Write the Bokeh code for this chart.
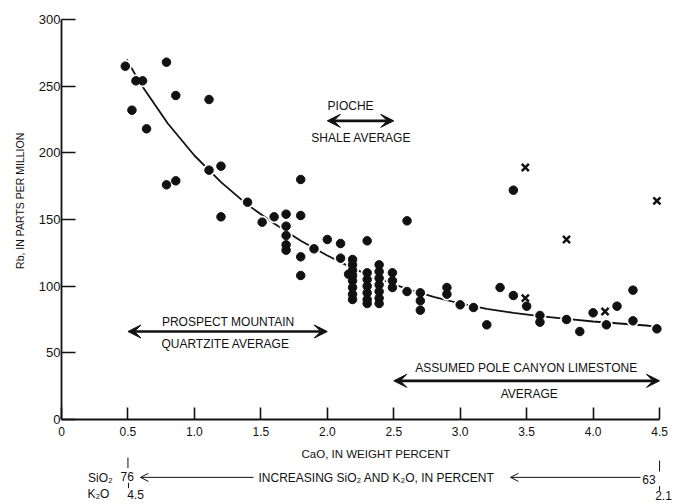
import math
from bokeh.plotting import figure
from bokeh.models import Range1d, FixedTicker, Label, Arrow, VeeHead, OpenHead
from bokeh.embed import file_html
from bokeh.resources import INLINE

# ---------------- data ----------------
dot_cao = [0.48, 0.53, 0.56, 0.61, 0.64, 0.79, 0.79, 0.86, 0.86, 1.11, 1.11, 1.20, 1.20,
           1.40, 1.51, 1.60, 1.69, 1.69, 1.69, 1.69, 1.69, 1.80, 1.80, 1.80, 1.80, 1.90,
           2.00, 2.10, 2.10, 2.16,
           2.19, 2.19, 2.19, 2.19, 2.19, 2.19, 2.19, 2.19,
           2.30,
           2.30, 2.30, 2.30, 2.30, 2.30, 2.30,
           2.39, 2.39, 2.39, 2.39, 2.39, 2.39, 2.39,
           2.49, 2.49, 2.49,
           2.60, 2.60, 2.70, 2.70, 2.70, 2.90, 2.90,
           3.00, 3.10, 3.20, 3.30, 3.40, 3.40, 3.50,
           3.60, 3.60, 3.80, 3.90, 4.00, 4.10, 4.18, 4.30, 4.30, 4.48]
dot_rb = [265, 232, 254, 254, 218, 268, 176, 243, 179, 240, 187, 190, 152,
          163, 148, 152, 154, 145, 138, 131, 127, 180, 153, 122, 108, 128,
          135, 132, 121, 109,
          120, 116, 112, 108, 104, 99, 94, 90,
          134,
          110, 105, 100, 95, 90, 87,
          116, 111, 106, 101, 96, 91, 87,
          110, 104, 99,
          149, 96, 95, 89, 82, 99, 94,
          86, 84, 71, 99, 172, 93, 85,
          78, 73, 75, 66, 80, 71, 85, 97, 74, 68]

cross_cao = [3.49, 3.80, 4.48, 3.49, 4.09]
cross_rb = [189, 135, 164, 91, 81]

curve_cao = [0.49, 0.6, 0.8, 1.0, 1.2, 1.4, 1.6, 1.8, 2.0, 2.2, 2.4, 2.6, 2.8,
             3.0, 3.2, 3.4, 3.6, 3.8, 4.0, 4.2, 4.4, 4.48]
curve_rb = [270, 251, 222, 198, 178, 161, 147, 134, 123, 113, 105, 98, 92,
            87, 83, 80, 77.5, 75.5, 73.5, 72, 70.5, 69.5]

x_ticks = [0, 0.5, 1.0, 1.5, 2.0, 2.5, 3.0, 3.5, 4.0, 4.5]
x_tick_labels = ["0", "0.5", "1.0", "1.5", "2.0", "2.5", "3.0", "3.5", "4.0", "4.5"]
y_ticks = [0, 50, 100, 150, 200, 250, 300]

# average ranges: (CaO from, CaO to, Rb)
prospect_avg = [0.5, 2.0, 66]
pioche_avg = [2.0, 2.5, 224]
pole_avg = [2.5, 4.5, 29]

# secondary scale at the CaO ends
sio2_ends = ["76", "63"]
k2o_ends = ["4.5", "2.1"]

FONT = "Liberation Sans"
INK = "#111111"

# ---------------- figure ----------------
# the frame spans the whole canvas; the axes are pinned at CaO = 0 and Rb = 0
p = figure(width=675, height=504, x_range=Range1d(-0.459, 4.620),
           y_range=Range1d(-63.75, 314.25),
           output_backend="svg", toolbar_location=None)
p.min_border = 0
p.outline_line_color = None
p.grid.visible = False
p.background_fill_color = "white"
p.border_fill_color = "white"

xa = p.xaxis[0]
xa.fixed_location = 0
xa.ticker = FixedTicker(ticks=x_ticks)
xa.major_label_overrides = {t: l for t, l in zip(x_ticks, x_tick_labels)}
xa.bounds = (0, 4.5)
xa.major_tick_in = 12
xa.major_tick_out = 0
xa.minor_tick_line_color = None
xa.major_label_standoff = 7
xa.axis_line_width = 1.8
xa.major_tick_line_width = 1.6
xa.axis_line_color = INK
xa.major_tick_line_color = INK
xa.major_label_text_font = FONT
xa.major_label_text_font_size = "12px"
xa.major_label_text_color = INK

ya = p.yaxis[0]
ya.fixed_location = 0
ya.ticker = FixedTicker(ticks=y_ticks)
ya.bounds = (0, 300)
ya.major_tick_in = 14
ya.major_tick_out = 0
ya.minor_tick_line_color = None
ya.major_label_standoff = 1
ya.axis_line_width = 1.8
ya.major_tick_line_width = 1.6
ya.axis_line_color = INK
ya.major_tick_line_color = INK
ya.major_label_text_font = FONT
ya.major_label_text_font_size = "13px"
ya.major_label_text_color = INK

# curve, halos, dots, crosses
p.line(curve_cao, curve_rb, line_width=1.8, color=INK)
p.scatter(dot_cao, dot_rb, marker="circle", size=12, color="white", line_color="white")
p.scatter(dot_cao, dot_rb, marker="circle", size=8.5, color=INK, line_color=INK)
p.scatter(cross_cao, cross_rb, marker="x", size=10, line_width=2.5, line_color=INK)


def lab(x, y, text, size="12px", align="center", angle=0.0):
    p.add_layout(Label(x=x, y=y, text=text, text_font=FONT, text_font_size=size,
                       text_color=INK, text_align=align, text_baseline="middle",
                       angle=angle))


def double_arrow(x0, x1, y):
    p.add_layout(Arrow(x_start=x0, y_start=y, x_end=x1, y_end=y, line_width=2.6,
                       line_color=INK,
                       start=VeeHead(size=13, fill_color=INK, line_color=INK, line_width=1),
                       end=VeeHead(size=13, fill_color=INK, line_color=INK, line_width=1)))


def thin_line(x0, y0, x1, y1, head=False):
    p.add_layout(Arrow(x_start=x0, y_start=y0, x_end=x1, y_end=y1, line_width=1,
                       line_color=INK,
                       end=OpenHead(size=8, line_width=1, line_color=INK) if head else None))


# average arrows and labels
double_arrow(prospect_avg[0], prospect_avg[1], prospect_avg[2])
lab(1.254, 73, "PROSPECT MOUNTAIN")
lab(1.234, 57, "QUARTZITE AVERAGE")

double_arrow(pioche_avg[0], pioche_avg[1], pioche_avg[2])
lab(2.175, 235, "PIOCHE")
lab(2.255, 211.5, "SHALE AVERAGE")

double_arrow(pole_avg[0], pole_avg[1], pole_avg[2])
lab(3.497, 39, "ASSUMED POLE CANYON LIMESTONE")
lab(3.52, 19.5, "AVERAGE")

# axis titles
lab(-0.316, 164, "Rb, IN PARTS PER MILLION", size="10.5px", angle=math.pi / 2)
lab(2.378, -25.5, "CaO, IN WEIGHT  PERCENT", size="11.5px")

# secondary SiO2 / K2O scale
thin_line(0.5, -28.5, 0.5, -36.5)
lab(0.293, -43.5, "SiO\u2082")
lab(0.494, -43.0, sio2_ends[0])
thin_line(0.504, -47.5, 0.504, -51.5)
lab(0.278, -55.8, "K\u2082O")
lab(0.557, -56.3, k2o_ends[0])
thin_line(1.445, -43.4, 0.594, -43.4, head=True)
lab(1.482, -43.5, "INCREASING  SiO\u2082 AND K\u2082O, IN PERCENT", align="left")
thin_line(4.357, -43.4, 3.378, -43.4, head=True)
thin_line(4.5, -30.75, 4.5, -39)
lab(4.42, -45.0, sio2_ends[1])
thin_line(4.5, -50, 4.5, -53.5)
lab(4.53, -57.0, k2o_ends[1])

open("out.html", "w").write(file_html(p, INLINE))
